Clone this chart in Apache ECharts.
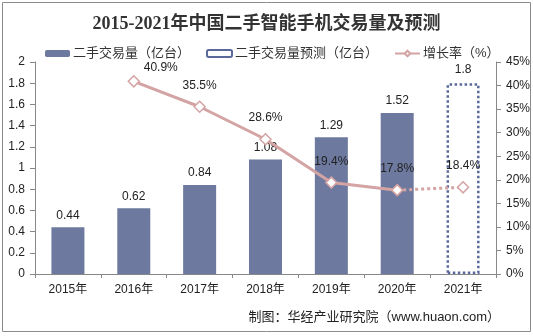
<!DOCTYPE html>
<html>
<head>
<meta charset="utf-8">
<script src="https://cdn.jsdelivr.net/npm/echarts@6/dist/echarts.min.js"></script>
<style>
html,body{margin:0;padding:0;background:#fff;}
#c{width:533px;height:336px;}
</style>
</head>
<body>
<div id="c"></div>
<script>
const categories = ['2015年','2016年','2017年','2018年','2019年','2020年','2021年'];
const volume = [0.44, 0.62, 0.84, 1.08, 1.29, 1.52, '-'];
const forecast = ['-', '-', '-', '-', '-', '-', 1.8];
const growth = ['-', 40.9, 35.5, 28.6, 19.4, 17.8, '-'];
const growthForecast = ['-', '-', '-', '-', '-', 17.8, 18.4];

const FONT = "'Liberation Sans', 'Noto Sans CJK SC', sans-serif";
const LINE = '#d4a3a3';
const BAR = '#6d799e';

const chart = echarts.init(document.getElementById('c'));

const growthData = growth.map((v, i) => {
  if (i === 1) return { value: v, label: { offset: [27, 8] } };
  return v;
});
const growthFcData = growthForecast.map((v, i) => {
  if (i === 5) return { value: v, symbol: 'none', label: { show: false } };
  return v;
});

chart.setOption({
  animation: false,
  textStyle: { fontFamily: FONT },
  title: {
    text: '2015-2021年中国二手智能手机交易量及预测',
    left: 'center', top: 10,
    textStyle: { fontFamily: "'Liberation Serif', 'Noto Sans CJK SC', serif", fontWeight: 'bold', fontSize: 18, color: '#333' }
  },
  legend: {
    data: ['二手交易量（亿台）', '二手交易量预测（亿台）', '增长率（%）'],
    left: 40, top: 42,
    itemWidth: 25, itemHeight: 7, itemGap: 16,
    textStyle: { fontSize: 13, color: '#333', fontFamily: FONT, padding: [0, 0, 0, -2] }
  },
  graphic: [
    { type: 'rect', shape: { x: 2.5, y: 2.5, width: 528, height: 329 }, style: { fill: 'none', stroke: '#8c8c8c', lineWidth: 1 }, z: -10 },
    { type: 'text', right: 33, top: 311, style: { text: '制图：华经产业研究院（www.huaon.com）', fontSize: 13, fill: '#222', fontFamily: FONT } }
  ],
  grid: { left: 35, right: 36, top: 62, bottom: 62 },
  xAxis: {
    type: 'category', data: categories,
    axisLine: { lineStyle: { color: '#888' } },
    axisTick: { show: true, length: 4, lineStyle: { color: '#888' } },
    axisLabel: { fontSize: 12, color: '#222', margin: 10 }
  },
  yAxis: [
    {
      type: 'value', min: 0, max: 2, interval: 0.2,
      splitLine: { show: false },
      axisLine: { show: true, lineStyle: { color: '#888' } },
      axisTick: { show: true, length: 5, lineStyle: { color: '#888' } },
      axisLabel: { fontSize: 12, color: '#222', margin: 10 }
    },
    {
      type: 'value', min: 0, max: 45, interval: 5,
      splitLine: { show: false },
      axisLine: { show: true, lineStyle: { color: '#888' } },
      axisTick: { show: true, length: 5, lineStyle: { color: '#888' } },
      axisLabel: { fontSize: 12, color: '#222', margin: 10, formatter: '{value}%' }
    }
  ],
  series: [
    {
      name: '二手交易量（亿台）', type: 'bar', data: volume,
      barWidth: 33, barGap: '-100%',
      itemStyle: { color: BAR },
      label: { show: true, position: 'top', fontSize: 12, color: '#222', distance: 6 }
    },
    {
      name: '二手交易量预测（亿台）', type: 'bar', data: forecast,
      barWidth: 33, barGap: '-100%',
      itemStyle: { color: 'rgba(255,255,255,0)', borderColor: '#5a699c', borderWidth: 2.5, borderType: 'dotted' },
      label: { show: true, position: 'top', fontSize: 12, color: '#222', distance: 8 }
    },
    {
      name: '增长率（%）', type: 'line', yAxisIndex: 1, data: growthData,
      z: 5,
      symbol: 'diamond', symbolSize: 11,
      lineStyle: { color: LINE, width: 3 },
      itemStyle: { color: '#fff', borderColor: LINE, borderWidth: 1.5 },
      label: { show: true, position: 'top', distance: 9, fontSize: 12, color: '#222', formatter: p => p.value + '%' }
    },
    {
      name: '增长率预测', type: 'line', yAxisIndex: 1, data: growthFcData,
      z: 4,
      symbol: 'diamond', symbolSize: 11,
      lineStyle: { color: LINE, width: 3, type: 'dotted' },
      itemStyle: { color: '#fff', borderColor: LINE, borderWidth: 1.5 },
      label: { show: true, position: 'top', distance: 9, fontSize: 12, color: '#222', formatter: p => p.value + '%' }
    }
  ]
});
</script>
</body>
</html>
